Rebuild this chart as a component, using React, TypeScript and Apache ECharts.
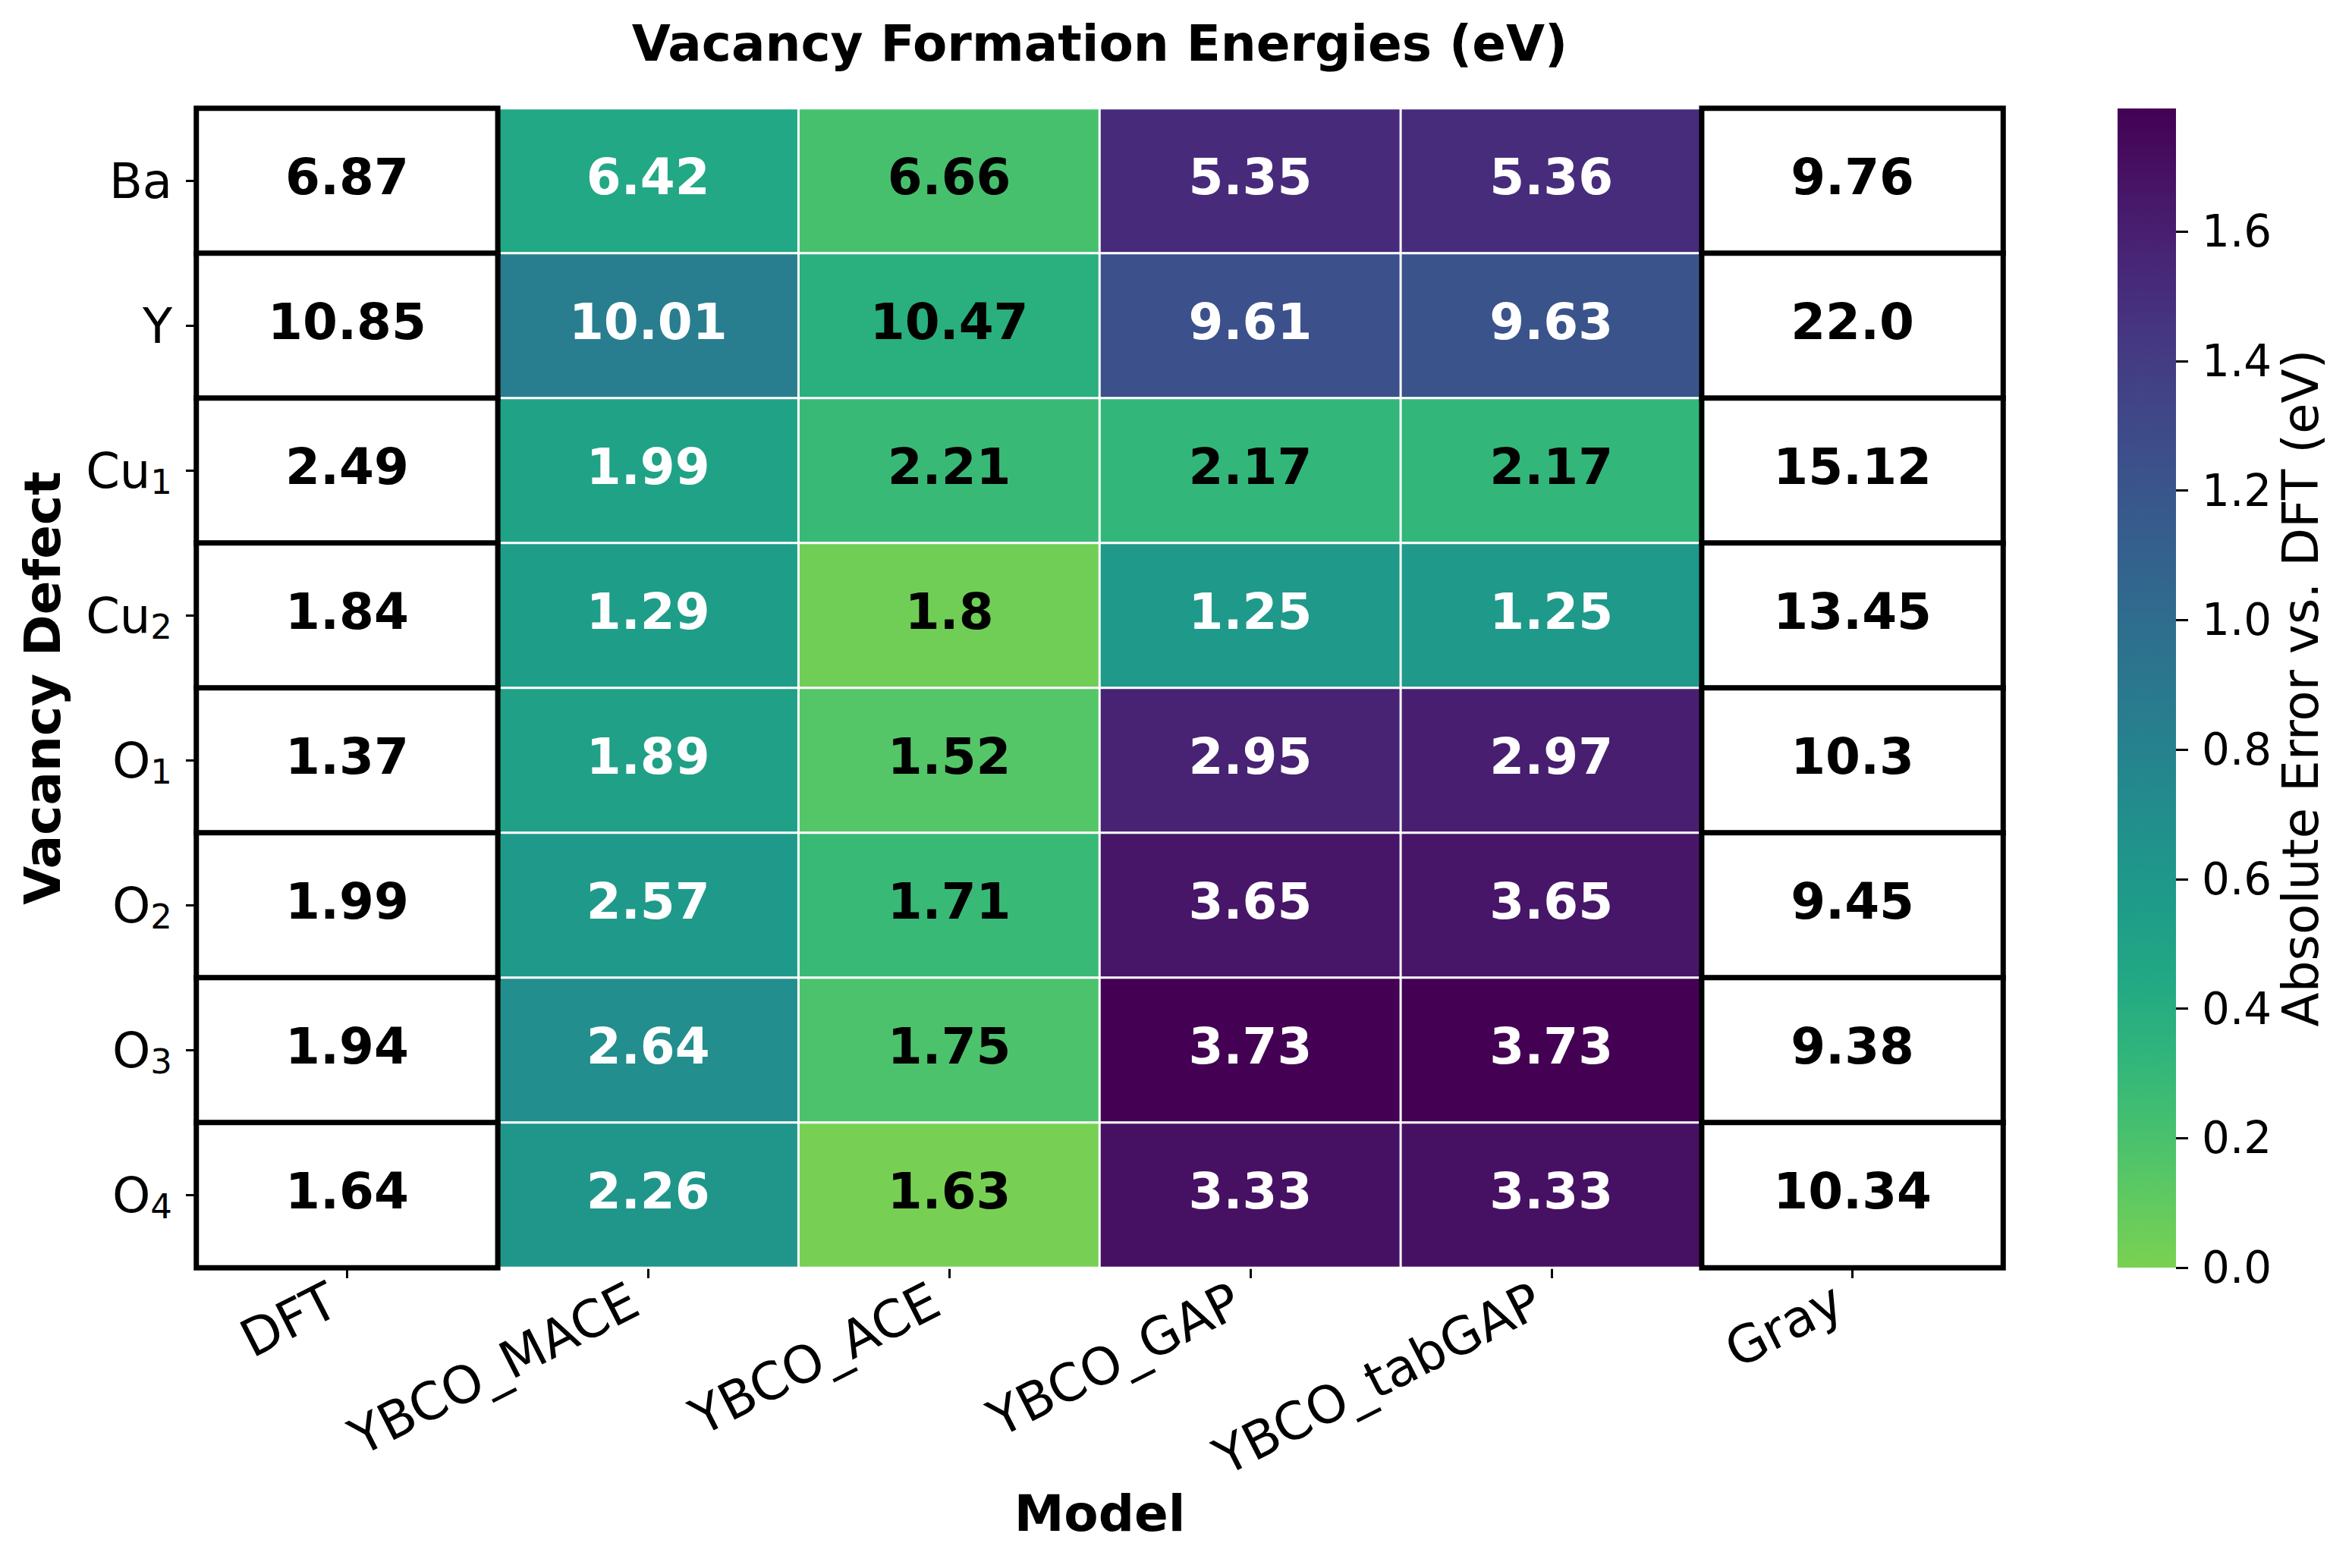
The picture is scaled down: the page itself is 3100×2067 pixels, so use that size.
import React, { useEffect, useRef } from "react";
import * as echarts from "echarts";

// ---- data ----
const models = ["DFT", "YBCO_MACE", "YBCO_ACE", "YBCO_GAP", "YBCO_tabGAP", "Gray"];
const defects = ["Ba", "Y", "Cu₁", "Cu₂", "O₁", "O₂", "O₃", "O₄"];
const dftValues = [6.87, 10.85, 2.49, 1.84, 1.37, 1.99, 1.94, 1.64];
const maceValues = [6.42, 10.01, 1.99, 1.29, 1.89, 2.57, 2.64, 2.26];
const aceValues = [6.66, 10.47, 2.21, 1.8, 1.52, 1.71, 1.75, 1.63];
const gapValues = [5.35, 9.61, 2.17, 1.25, 2.95, 3.65, 3.73, 3.33];
const tabgapValues = [5.36, 9.63, 2.17, 1.25, 2.97, 3.65, 3.73, 3.33];
const grayValues = [9.76, 22.0, 15.12, 13.45, 10.3, 9.45, 9.38, 10.34];
const cbarMax = 1.79;
const cbarTicks = [0, 0.2, 0.4, 0.6, 0.8, 1.0, 1.2, 1.4, 1.6];

// viridis from 0.8 (low error) down to 0.0 (high error)
const colorStops = [
  "#7ad151", "#5ec962", "#44bf70", "#2fb47c", "#22a884", "#1e9c89",
  "#21918c", "#25848e", "#2a788e", "#2f6c8e", "#355f8d", "#3b528b",
  "#414487", "#463480", "#482475", "#471365", "#440154",
];

// ---- layout ----
const W = 3100;
const H = 2067;
const gridL = 259;
const gridT = 143;
const gridW = 2381;
const gridH = 1528;
const cbL = 2791;
const cbW = 77;
const FONT = "DejaVu Sans";

const fmt = (v: number) => (Number.isInteger(v) ? v.toFixed(1) : String(v));
const SUBS: Record<string, string> = { "₀": "0", "₁": "1", "₂": "2", "₃": "3", "₄": "4", "₅": "5", "₆": "6", "₇": "7", "₈": "8", "₉": "9" };
const subRich = (s: string) =>
  s.replace(/[₀-₉]+/g, (m) => "{s|" + m.split("").map((c) => SUBS[c]).join("") + "}");

export default function App() {
  const ref = useRef<HTMLDivElement>(null);

  useEffect(() => {
    const chart = echarts.init(ref.current!, null, { renderer: "svg" });
    const columns = [dftValues, maceValues, aceValues, gapValues, tabgapValues, grayValues];
    const errData: any[] = [];
    const refData: any[] = [];
    columns.forEach((col, xi) => {
      col.forEach((v, yi) => {
        if (xi === 0 || xi === columns.length - 1) {
          refData.push({ value: [xi, yi, v], label: { color: "#000" } });
        } else {
          const err = Math.abs(v - dftValues[yi]);
          errData.push({
            value: [xi, yi, err, v],
            label: { color: err > 0.4 ? "#fff" : "#000" },
          });
        }
      });
    });

    const cx = gridL + gridW / 2;
    const cy = gridT + gridH / 2;

    const cellLabel = {
      show: true,
      fontFamily: FONT,
      fontSize: 66,
      fontWeight: "bold",
      offset: [0, -5],
    };

    chart.setOption({
      animation: false,
      backgroundColor: "#fff",
      grid: [
        { left: gridL, top: gridT, width: gridW, height: gridH },
        { left: cbL, top: gridT, width: cbW, height: gridH },
      ],
      xAxis: [
        {
          type: "category",
          gridIndex: 0,
          data: models,
          axisLine: { show: false },
          splitLine: { show: false },
          axisTick: { show: true, alignWithLabel: true, length: 14, lineStyle: { color: "#000", width: 3 } },
          axisLabel: {
            interval: 0,
            rotate: 27,
            fontFamily: FONT,
            fontSize: 68,
            color: "#000",
            margin: 30,
            padding: [0, 20, 0, 0],
          },
        },
        { type: "category", gridIndex: 1, data: ["cb"], show: false },
      ],
      yAxis: [
        {
          type: "category",
          gridIndex: 0,
          data: defects,
          inverse: true,
          axisLine: { show: false },
          splitLine: { show: false },
          axisTick: { show: true, alignWithLabel: true, length: 14, lineStyle: { color: "#000", width: 3 } },
          axisLabel: {
            fontFamily: FONT,
            fontSize: 64,
            lineHeight: 80,
            color: "#000",
            margin: 32,
            formatter: (v: string) => subRich(v),
            rich: {
              s: {
                fontFamily: FONT,
                fontSize: 45,
                lineHeight: 80,
                verticalAlign: "bottom",
                padding: [0, 0, 3, 0],
                color: "#000",
              },
            },
          },
        },
        {
          type: "value",
          gridIndex: 1,
          min: 0,
          max: cbarMax,
          position: "right",
          axisLine: { show: false },
          splitLine: { show: false },
          axisTick: { show: true, length: 16, customValues: cbarTicks, lineStyle: { color: "#000", width: 3 } },
          axisLabel: {
            customValues: cbarTicks,
            formatter: (v: number) => v.toFixed(1),
            fontFamily: FONT,
            fontSize: 58,
            color: "#000",
            margin: 34,
          },
        },
      ],
      visualMap: [
        {
          type: "continuous",
          show: false,
          seriesIndex: 0,
          dimension: 2,
          min: 0,
          max: cbarMax,
          inRange: { color: colorStops },
        },
        {
          type: "continuous",
          show: false,
          seriesIndex: 1,
          dimension: 2,
          min: 0,
          max: 100,
          inRange: { color: ["#ffffff", "#ffffff"] },
        },
      ],
      series: [
        {
          type: "heatmap",
          xAxisIndex: 0,
          yAxisIndex: 0,
          data: errData,
          itemStyle: { borderColor: "#fff", borderWidth: 3 },
          label: { ...cellLabel, formatter: (p: any) => fmt(p.value[3]) },
          emphasis: { disabled: true },
        },
        {
          type: "heatmap",
          xAxisIndex: 0,
          yAxisIndex: 0,
          data: refData,
          itemStyle: { color: "#fff", borderColor: "#000", borderWidth: 7 },
          label: { ...cellLabel, formatter: (p: any) => fmt(p.value[2]) },
          emphasis: { disabled: true },
        },
        {
          type: "bar",
          xAxisIndex: 1,
          yAxisIndex: 1,
          data: [cbarMax],
          barWidth: "100%",
          silent: true,
          itemStyle: {
            color: new echarts.graphic.LinearGradient(
              0, 1, 0, 0,
              colorStops.map((c, i) => ({ offset: i / (colorStops.length - 1), color: c }))
            ),
          },
        },
      ],
      graphic: [
        {
          type: "text",
          x: cx,
          y: 57,
          style: {
            text: "Vacancy Formation Energies (eV)",
            fontFamily: FONT,
            fontSize: 66,
            fontWeight: "bold",
            fill: "#000",
            align: "center",
            verticalAlign: "middle",
          },
        },
        {
          type: "text",
          x: cx,
          y: 1995,
          style: {
            text: "Model",
            fontFamily: FONT,
            fontSize: 66,
            fontWeight: "bold",
            fill: "#000",
            align: "center",
            verticalAlign: "middle",
          },
        },
        {
          type: "text",
          x: 56,
          y: cy,
          rotation: Math.PI / 2,
          style: {
            text: "Vacancy Defect",
            fontFamily: FONT,
            fontSize: 66,
            fontWeight: "bold",
            fill: "#000",
            align: "center",
            verticalAlign: "middle",
          },
        },
        {
          type: "text",
          x: 3032,
          y: cy,
          rotation: Math.PI / 2,
          style: {
            text: "Absolute Error vs. DFT (eV)",
            fontFamily: FONT,
            fontSize: 66,
            fill: "#000",
            align: "center",
            verticalAlign: "middle",
          },
        },
      ],
    });

    return () => chart.dispose();
  }, []);

  return (
    <div
      ref={ref}
      style={{ position: "absolute", left: 0, top: 0, width: W, height: H, background: "#fff" }}
    />
  );
}
